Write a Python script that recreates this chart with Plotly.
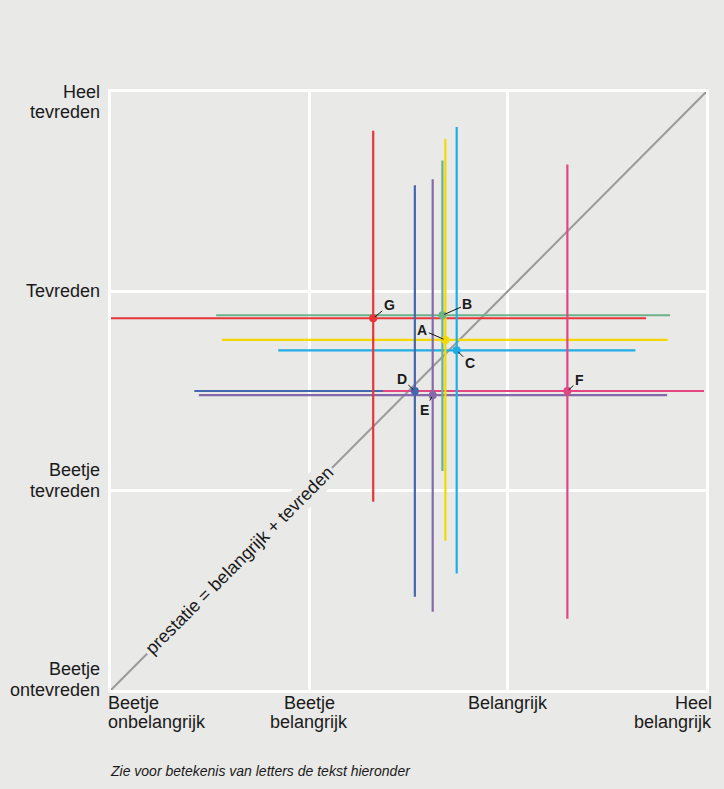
import plotly.graph_objects as go

# ---------------- data ----------------
labels = ["A", "B", "C", "D", "E", "F", "G"]
colors = ["#f4d900", "#6bb388", "#1eaee5", "#4467ad", "#8569a8", "#e44583", "#e8353a"]
importance = [1.686, 1.671, 1.743, 1.532, 1.622, 2.301, 1.322]
satisfaction = [1.756, 1.880, 1.704, 1.500, 1.479, 1.500, 1.865]
importance_low = [0.560, 0.530, 0.843, 0.420, 0.443, 1.371, 0.000]
importance_high = [2.807, 2.819, 2.644, 2.750, 2.804, 2.990, 2.698]
satisfaction_low = [0.749, 1.099, 0.585, 0.468, 0.393, 0.358, 0.945]
satisfaction_high = [2.765, 2.656, 2.825, 2.532, 2.562, 2.636, 2.805]

x_tickvals = [0, 1, 2, 3]
x_ticktext = ["Beetje<br>onbelangrijk", "Beetje<br>belangrijk", "Belangrijk", "Heel<br>belangrijk"]
y_tickvals = [0, 1, 2, 3]
y_ticktext = ["Beetje<br>ontevreden", "Beetje<br>tevreden", "Tevreden", "Heel<br>tevreden"]

diag_x = [0, 3]
diag_y = [0, 3]
diag_label = "prestatie = belangrijk + tevreden"
footnote = "Zie voor betekenis van letters de tekst hieronder"

# ---------------- styling ----------------
BG = "#e9e9e7"
TXT = "#1a1a1a"
FONT = "Liberation Sans, Arial, sans-serif"
label_offsets = {"A": (-23, -10), "B": (25, -11), "C": (13, 13), "D": (-13, -12),
                 "E": (-8, 15), "F": (12, -11), "G": (16, -13)}

fig = go.Figure()

# diagonal reference line
fig.add_trace(go.Scatter(x=diag_x, y=diag_y, mode="lines",
                         line=dict(color="#9a9a9a", width=2), hoverinfo="skip"))

# horizontal ranges (importance)
for i, lab in enumerate(labels):
    fig.add_trace(go.Scatter(x=[importance_low[i], importance_high[i]],
                             y=[satisfaction[i], satisfaction[i]],
                             mode="lines", line=dict(color=colors[i], width=2.2),
                             hoverinfo="skip"))
# vertical ranges (satisfaction)
for i, lab in enumerate(labels):
    fig.add_trace(go.Scatter(x=[importance[i], importance[i]],
                             y=[satisfaction_low[i], satisfaction_high[i]],
                             mode="lines", line=dict(color=colors[i], width=2.2),
                             hoverinfo="skip"))
# points
fig.add_trace(go.Scatter(x=importance, y=satisfaction, mode="markers",
                         marker=dict(color=colors, size=8, line=dict(width=0)),
                         hoverinfo="skip"))

annotations = []
# point letters with leader lines
for i, lab in enumerate(labels):
    dx, dy = label_offsets[lab]
    annotations.append(dict(x=importance[i], y=satisfaction[i], xref="x", yref="y",
                            text="<b>%s</b>" % lab, showarrow=True, arrowhead=0,
                            arrowwidth=1, arrowcolor="#111111", ax=dx, ay=dy,
                            standoff=2, font=dict(family=FONT, size=14, color=TXT)))

# y-axis labels (one annotation per line)
for val, txt in zip(y_tickvals, y_ticktext):
    lines = txt.split("<br>")
    if val == 3:
        shifts = [0, -20]
    elif len(lines) == 2:
        shifts = [21, 0]
    else:
        shifts = [0]
    for line, sh in zip(lines, shifts):
        annotations.append(dict(x=0, xref="paper", y=val, yref="y", text=line,
                                showarrow=False, xanchor="right", yanchor="middle",
                                xshift=-9, yshift=sh,
                                font=dict(family=FONT, size=18, color=TXT)))

# x-axis labels
for val, txt in zip(x_tickvals, x_ticktext):
    lines = txt.split("<br>")
    if val == 0:
        anchor, xs = "left", -5
    elif val == 3:
        anchor, xs = "right", 8
    else:
        anchor, xs = "center", 0
    for k, line in enumerate(lines):
        annotations.append(dict(x=val, xref="x", y=0, yref="paper", text=line,
                                showarrow=False, xanchor=anchor, yanchor="middle",
                                xshift=xs, yshift=-13 - 19 * k,
                                font=dict(family=FONT, size=18, color=TXT)))

# diagonal label
annotations.append(dict(x=0.65, y=0.65, xref="x", yref="y", text=diag_label,
                        showarrow=False, textangle=-45, bgcolor=BG, borderpad=2,
                        font=dict(family=FONT, size=18, color=TXT)))

# footnote
annotations.append(dict(x=0, xref="paper", y=0, yref="paper", text="<i>%s</i>" % footnote,
                        showarrow=False, xanchor="left", yanchor="middle",
                        xshift=-3, yshift=-81,
                        font=dict(family=FONT, size=14, color=TXT)))

axis_common = dict(range=[0, 3], tickvals=[0, 1, 2, 3], showticklabels=False,
                   showgrid=True, gridcolor="white", gridwidth=3,
                   showline=True, mirror=True, linecolor="white", linewidth=3,
                   zeroline=False, ticks="", fixedrange=True)

fig.update_layout(
    width=724, height=789,
    margin=dict(l=111, r=18, t=92, b=99),
    paper_bgcolor=BG, plot_bgcolor=BG,
    showlegend=False, hovermode=False,
    xaxis=axis_common, yaxis=axis_common,
    annotations=annotations,
)

fig.write_html("out.html", config={"displayModeBar": False},
               post_script="document.body.style.margin='0';document.body.style.background='%s';" % BG)
